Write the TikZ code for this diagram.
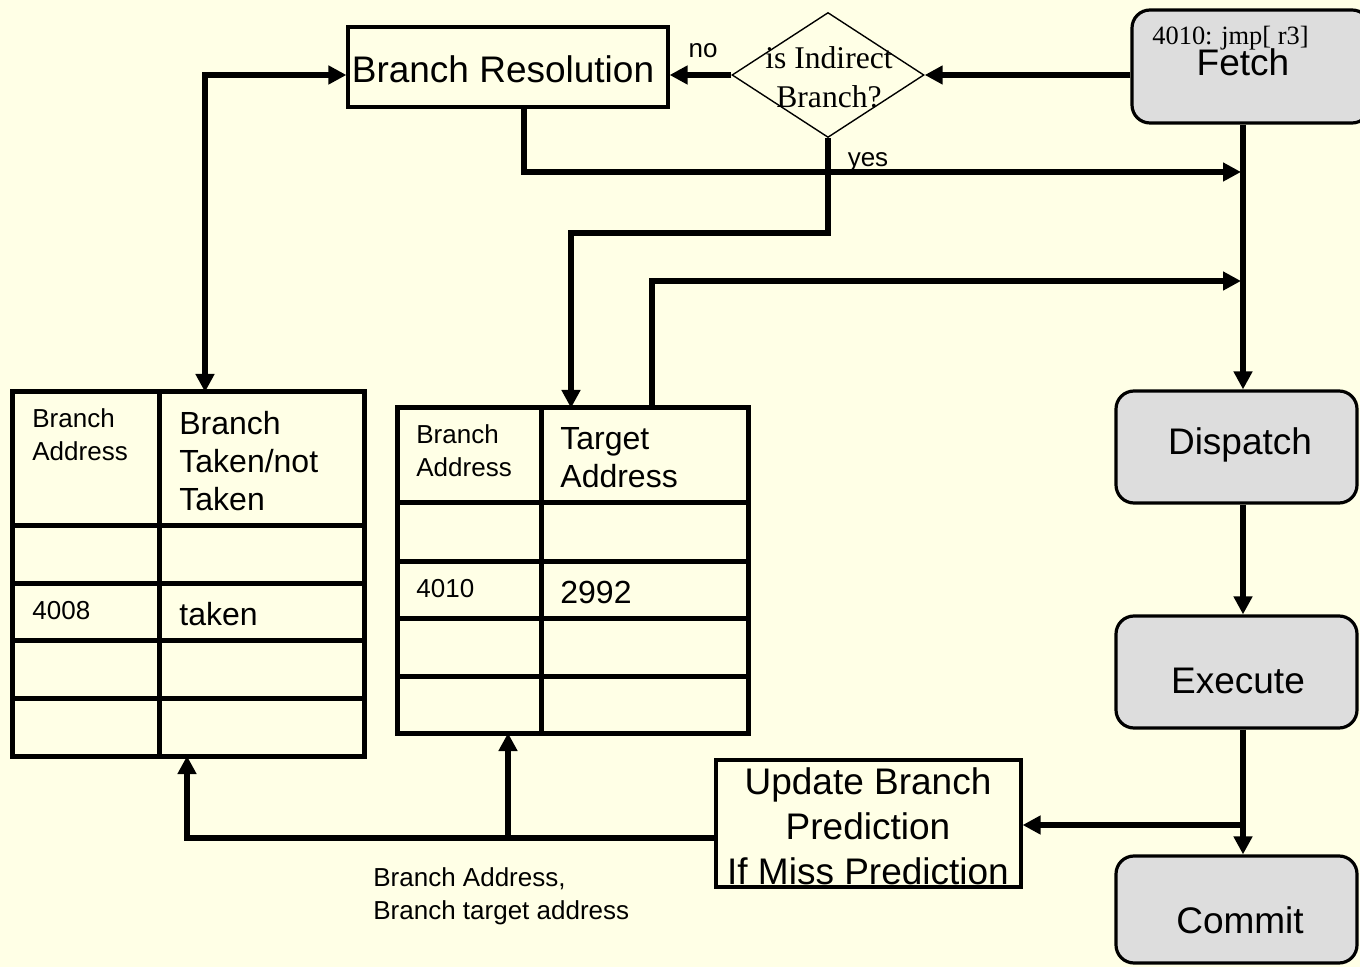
\documentclass[tikz,border=0pt]{standalone}
\usepackage{fontspec}
\setmainfont{Liberation Sans}
\newfontfamily\tms{Liberation Serif}
\usetikzlibrary{arrows.meta,shapes.geometric,calc}
\definecolor{bg}{HTML}{FFFFE6}
\definecolor{boxgray}{HTML}{DDDDDD}
\newcommand{\fs}[2]{\fontsize{#1}{#2}\selectfont}
\begin{document}
\begin{tikzpicture}[x=0.5pt,y=-0.5pt,
 stage/.style={draw,line width=1.6pt,rounded corners=9pt,fill=boxgray,inner sep=0},
 plainbox/.style={draw,line width=1.6pt,fill=bg,inner sep=0},
 tbl/.style={draw,line width=2.5pt,inner sep=0},
 conn/.style={line width=2.8pt,-{Triangle[length=9pt,width=9pt]}},
 gridline/.style={line width=2.5pt},
 txt/.style={inner sep=0,text depth=0pt},
 lbl/.style={inner sep=0,align=left,anchor=west},
]
\fill[bg] (0,0) rectangle (1360,967);
\useasboundingbox (0,0) rectangle (1360,967);

% pipeline stages
\node[stage,minimum width=119pt,minimum height=56.5pt] (fetch) at (1251,66.5) {};
\node[txt,anchor=west,font=\tms\fs{13.2pt}{15pt}] (fetchlbl) at (1152,35) {4010: jmp[ r3]};
\node[txt,font=\fs{18.5pt}{22pt}] (fetchtxt) at (1243,62) {Fetch};

\node[stage,minimum width=120.5pt,minimum height=56pt] (disp) at (1236.5,447) {};
\node[txt,font=\fs{18.5pt}{22pt}] (disptxt) at (1240,441) {Dispatch};

\node[stage,minimum width=120.5pt,minimum height=56pt] (exec) at (1236.5,672) {};
\node[txt,font=\fs{18.5pt}{22pt}] (exectxt) at (1238,681) {Execute};

\node[stage,minimum width=120.5pt,minimum height=53.5pt] (commit) at (1236.5,909.5) {};
\node[txt,font=\fs{18.5pt}{22pt}] (committxt) at (1240,920) {Commit};

% branch resolution, decision
\node[plainbox,minimum width=160pt,minimum height=40pt] (br) at (508,67) {};
\node[txt,font=\fs{18.5pt}{22pt}] (brtxt) at (503,69) {Branch Resolution};

\node[diamond,draw,line width=0.7pt,inner sep=0,minimum width=96pt,minimum height=62.5pt] (dia) at (828,75) {};
\node[inner sep=0,align=center,font=\tms\fs{15.8pt}{19.5pt}] (diatxt) at (829,77) {is Indirect\\Branch?};

\node[plainbox,minimum width=152.5pt,minimum height=63.5pt] (upd) at (868.5,823.5) {};
\node[inner sep=0,align=center,font=\fs{18.5pt}{22.5pt}] (updtxt) at (868,826) {Update Branch\\Prediction\\If Miss Prediction};

% table 1
\node[tbl,minimum width=176pt,minimum height=182pt] (t1) at (188,574) {};
\draw[gridline] (159,392) -- (159,756);
\foreach \yy in {526,584,641,698} \draw[gridline] (12,\yy) -- (364,\yy);
\node[lbl,font=\fs{13pt}{16.5pt}] (t1h1) at (32,435) {Branch\\Address};
\node[lbl,font=\fs{16pt}{19pt}] (t1h2) at (179,461) {Branch\\Taken/not\\Taken};
\node[lbl,font=\fs{13pt}{16pt}] (t1a) at (32,611) {4008};
\node[lbl,font=\fs{16pt}{19pt}] (t1b) at (179,614) {taken};

% table 2
\node[tbl,minimum width=175.5pt,minimum height=162.5pt] (t2) at (572.5,570.5) {};
\draw[gridline] (541,408) -- (541,733);
\foreach \yy in {503,562,619,676} \draw[gridline] (397,\yy) -- (748,\yy);
\node[lbl,font=\fs{13pt}{16.5pt}] (t2h1) at (416,451) {Branch\\Address};
\node[lbl,font=\fs{16pt}{19pt}] (t2h2) at (560,458) {Target\\Address};
\node[lbl,font=\fs{13pt}{16pt}] (t2a) at (416,589) {4010};
\node[lbl,font=\fs{16pt}{19pt}] (t2b) at (560,592) {2992};

% helper coordinates
\coordinate (col) at (1243,0);
\coordinate (m1) at (1241,172);
\coordinate (m2) at (1241,281);
\coordinate (m3) at (1243,825);
\coordinate (ybus) at (0,838);
\coordinate (t1in) at (205,392);
\coordinate (t2in) at (571,408);
\coordinate (t2out) at (652,408);
\coordinate (b1) at (187,756);
\coordinate (b2) at (508,733);

% connectors
\draw[conn] (fetch.west |- dia.east) -- (dia.east);
\draw[conn] (dia.west) -- (dia.west -| br.east);
\node[txt,font=\fs{13pt}{16pt}] (nolbl) at (703,51) {no};
\draw[line width=2.8pt,{Triangle[length=9pt,width=9pt]}-{Triangle[length=9pt,width=9pt]}] (br.west |- dia.west) -| (t1in);
\draw[conn] ([xshift=8pt]br.south) |- (m1);
\draw[conn] (dia.south) -- ++(0,95) -| (t2in);
\node[txt,font=\fs{13pt}{16pt}] (yeslbl) at (868,160) {yes};
\draw[conn] (t2out) |- (m2);

\draw[conn] (fetch.south -| col) -- (disp.north -| col);
\draw[conn] (disp.south -| col) -- (exec.north -| col);
\draw[conn] (exec.south -| col) -- (commit.north -| col);
\draw[conn] (m3) -- (m3 -| upd.east);

\draw[conn] (upd.west |- ybus) -| (b1);
\draw[conn] (b2 |- ybus) -- (b2);
\node[lbl,font=\fs{13pt}{16.5pt}] (buslbl) at (373,896) {Branch Address,\\Branch target address};
\end{tikzpicture}
\end{document}
